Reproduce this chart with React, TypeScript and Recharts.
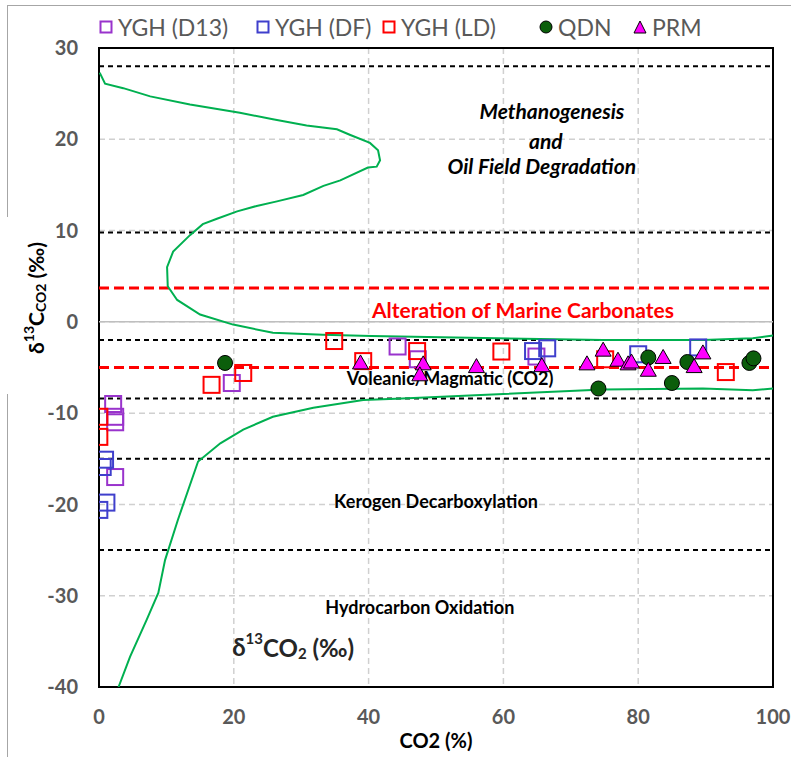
import React from 'react';
import {
  ComposedChart, Scatter, XAxis, YAxis, CartesianGrid,
  ReferenceLine, ReferenceArea, ReferenceDot,
} from 'recharts';

const FONT = 'Lato, "Open Sans", sans-serif';
const GREY = '#595959';
const PURPLE = '#9933cc';
const BLUE = '#3f3fcc';
const RED = '#ff0000';
const DARKGREEN = '#0b5e0b';
const MAGENTA = '#ff00ff';
const ENVELOPE = '#00b050';

const X_TICKS = [0, 20, 40, 60, 80, 100];
const Y_TICKS = [-40, -30, -20, -10, 0, 10, 20, 30];

// field boundaries, δ13C (‰)
const BLACK_BOUNDS = [28, 9.8, -2, -8.4, -15, -25];
const RED_BOUNDS = [3.7, -5];

// samples: x = CO2 (%), y = δ13C CO2 (‰)
const yghD13 = [
  { x: 2.1, y: -9.0 }, { x: 2.4, y: -10.4 }, { x: 2.4, y: -11.0 }, { x: 2.4, y: -17.0 },
  { x: 19.7, y: -6.7 }, { x: 44.3, y: -2.7 }, { x: 47.3, y: -4.1 }, { x: 64.9, y: -3.8 },
];
const yghDF = [
  { x: 0.9, y: -15.1 }, { x: 0.55, y: -15.9 }, { x: 1.1, y: -19.8 }, { x: 0.05, y: -20.6 },
  { x: 64.4, y: -3.2 }, { x: 66.5, y: -2.9 }, { x: 80.0, y: -3.55 }, { x: 88.9, y: -2.8 },
];
const yghLD = [
  { x: 0.05, y: -10.4 }, { x: 0.05, y: -12.6 }, { x: 16.7, y: -6.9 }, { x: 21.4, y: -5.6 },
  { x: 34.9, y: -2.1 }, { x: 39.2, y: -4.3 }, { x: 47.2, y: -3.2 }, { x: 59.7, y: -3.25 },
  { x: 75.1, y: -4.1 }, { x: 93.0, y: -5.5 },
];
const qdn = [
  { x: 18.7, y: -4.5 }, { x: 74.1, y: -7.3 }, { x: 81.5, y: -3.9 }, { x: 85.0, y: -6.7 },
  { x: 87.3, y: -4.4 }, { x: 96.5, y: -4.5 }, { x: 97.1, y: -4.0 },
];
const prm = [
  { x: 38.8, y: -4.5 }, { x: 48.1, y: -4.6 }, { x: 47.6, y: -5.8 }, { x: 56.0, y: -4.9 },
  { x: 65.7, y: -4.8 }, { x: 72.4, y: -4.6 }, { x: 74.8, y: -3.1 }, { x: 77.0, y: -4.2 },
  { x: 78.5, y: -4.6 }, { x: 79.0, y: -4.4 }, { x: 81.5, y: -5.3 }, { x: 83.7, y: -3.9 },
  { x: 88.3, y: -4.9 }, { x: 89.6, y: -3.4 },
];

// hand-drawn δ13CO2 envelope
const envelopeUpper = [
  { x: 0.1, y: 27.3 }, { x: 0.9, y: 26.1 }, { x: 3.6, y: 25.6 }, { x: 7.6, y: 24.7 },
  { x: 13.5, y: 23.8 }, { x: 20.9, y: 22.9 }, { x: 25.8, y: 22.2 }, { x: 30.8, y: 21.5 },
  { x: 35.3, y: 21.1 }, { x: 37.2, y: 20.5 }, { x: 40.2, y: 19.6 }, { x: 41.4, y: 18.8 },
  { x: 41.7, y: 17.7 }, { x: 41.2, y: 17.0 }, { x: 39.9, y: 16.9 }, { x: 35.8, y: 15.5 },
  { x: 33.3, y: 14.9 }, { x: 30.3, y: 13.9 }, { x: 26.4, y: 13.2 }, { x: 23.4, y: 12.7 },
  { x: 20.5, y: 12.1 }, { x: 17.5, y: 11.3 }, { x: 15.4, y: 10.7 }, { x: 13.5, y: 9.5 },
  { x: 11.0, y: 7.7 }, { x: 10.1, y: 6.0 }, { x: 10.2, y: 3.9 }, { x: 11.6, y: 2.4 },
  { x: 15.0, y: 0.8 }, { x: 19.9, y: -0.3 }, { x: 25.8, y: -1.2 }, { x: 33.2, y: -1.4 },
  { x: 40.4, y: -1.55 }, { x: 55.0, y: -1.75 }, { x: 74.8, y: -2.0 }, { x: 89.6, y: -2.0 },
  { x: 97.0, y: -1.8 }, { x: 100, y: -1.5 },
];
const envelopeLower = [
  { x: 2.9, y: -40 }, { x: 4.6, y: -36.7 }, { x: 7.1, y: -32.6 }, { x: 8.8, y: -29.7 },
  { x: 9.8, y: -26.1 }, { x: 11.7, y: -21.7 }, { x: 14.7, y: -15.3 }, { x: 18.0, y: -13.3 },
  { x: 21.4, y: -11.8 }, { x: 25.8, y: -10.4 }, { x: 31.8, y: -9.4 }, { x: 39.2, y: -8.55 },
  { x: 45.0, y: -8.4 }, { x: 60.0, y: -7.9 }, { x: 74.8, y: -7.4 }, { x: 89.6, y: -7.3 },
  { x: 97.0, y: -7.5 }, { x: 100, y: -7.3 },
];

const ANNOTATIONS = [
  { text: 'Methanogenesis', x: 67.2, y: 23.1, kind: 'italic' },
  { text: 'and', x: 66.3, y: 19.9, kind: 'italic' },
  { text: 'Oil Field Degradation', x: 65.7, y: 17.1, kind: 'italic' },
  { text: 'Alteration of Marine Carbonates', x: 62.9, y: 1.3, kind: 'red' },
  { text: 'Voleanic/Magmatic (CO2)', x: 52.1, y: -6.1, kind: 'plain' },
  { text: 'Kerogen Decarboxylation', x: 50.0, y: -19.6, kind: 'plain' },
  { text: 'Hydrocarbon Oxidation', x: 47.6, y: -31.2, kind: 'plain' },
];
const ANNOT_SIZE: Record<string, number> = { italic: 21, red: 21, plain: 18 };

const square = (color: string) => (p: any) => (
  <rect x={p.cx - 8} y={p.cy - 8} width={16} height={16} fill="none" stroke={color} strokeWidth={2} />
);
const dot = (p: any) => <circle cx={p.cx} cy={p.cy} r={7.5} fill={DARKGREEN} stroke="#000" strokeWidth={1} />;
const tri = (p: any) => (
  <polygon points={`${p.cx},${p.cy - 8} ${p.cx - 8},${p.cy + 6} ${p.cx + 8},${p.cy + 6}`}
    fill={MAGENTA} stroke="#000" strokeWidth={1} />
);
const nothing = () => <g />;

const annotationLabel = (a: (typeof ANNOTATIONS)[number]) => (lp: any) => {
  const vb = lp.viewBox;
  const cx = vb.x + vb.width / 2;
  const cy = vb.y + vb.height / 2;
  return (
    <text x={cx} y={cy} textAnchor="middle" dominantBaseline="central" fontFamily={FONT}
      fontWeight={700} fontSize={ANNOT_SIZE[a.kind]} fontStyle={a.kind === 'italic' ? 'italic' : 'normal'}
      fill={a.kind === 'red' ? RED : '#000'}>
      {a.text}
    </text>
  );
};

const deltaLabel = (lp: any) => {
  const vb = lp.viewBox;
  const cx = vb.x + vb.width / 2;
  const cy = vb.y + vb.height / 2;
  return (
    <text x={cx} y={cy} textAnchor="middle" dominantBaseline="central" fontFamily={FONT}
      fontWeight={700} fontSize={24} fill="#262626">
      δ<tspan fontSize={15} dy={-9}>13</tspan><tspan dy={9}>CO</tspan>
      <tspan fontSize={15} dy={6}>2</tspan><tspan dy={-6}> (‰)</tspan>
    </text>
  );
};

const yLabel = (lp: any) => {
  const vb = lp.viewBox;
  const cx = vb.x - 4;
  const cy = vb.y + 250;
  return (
    <g>
      <rect x={0} y={vb.y + 169} width={56} height={177} fill="#fff" />
      <text x={cx} y={cy} transform={`rotate(-90, ${cx}, ${cy})`} textAnchor="middle"
        dominantBaseline="central" fontFamily={FONT} fontWeight={700} fontSize={21} fill="#000">
        δ<tspan fontSize={14} dy={-7}>13</tspan><tspan dy={7}>C</tspan>
        <tspan fontSize={14} dy={5}>CO2</tspan><tspan dy={-5}> (‰)</tspan>
      </text>
    </g>
  );
};

const xLabel = (lp: any) => {
  const vb = lp.viewBox;
  return (
    <text x={vb.x + vb.width / 2} y={vb.y + 53} textAnchor="middle" dominantBaseline="central"
      fontFamily={FONT} fontWeight={700} fontSize={20} fill="#000">
      CO2 (%)
    </text>
  );
};

const LEGEND = [
  { name: 'YGH (D13)', icon: 'square', color: PURPLE, left: 99 },
  { name: 'YGH (DF)', icon: 'square', color: BLUE, left: 256 },
  { name: 'YGH (LD)', icon: 'square', color: RED, left: 382 },
  { name: 'QDN', icon: 'circle', color: DARKGREEN, left: 539 },
  { name: 'PRM', icon: 'triangle', color: MAGENTA, left: 633 },
];

function LegendIcon({ icon, color }: { icon: string; color: string }) {
  return (
    <svg width={14} height={14} style={{ marginRight: 5 }}>
      {icon === 'square' && <rect x={1.5} y={1.5} width={11} height={11} fill="none" stroke={color} strokeWidth={2} />}
      {icon === 'circle' && <circle cx={7} cy={7} r={6} fill={color} stroke="#000" strokeWidth={1} />}
      {icon === 'triangle' && <polygon points="7,1 1,13 13,13" fill={color} stroke="#000" strokeWidth={1} />}
    </svg>
  );
}

export default function App() {
  const tickStyle = { fill: GREY, fontSize: 20, fontWeight: 700, fontFamily: FONT };
  return (
    <div style={{ position: 'absolute', left: 0, top: 0, width: 791, height: 757, background: '#fff', overflow: 'hidden' }}>
      <div style={{ position: 'absolute', left: 7, top: 5, width: 800, height: 800, borderLeft: '1px solid #a6a6a6', borderTop: '1px solid #a6a6a6' }} />
      {LEGEND.map((l) => (
        <span key={l.name} style={{ position: 'absolute', left: l.left, top: 12, display: 'flex', alignItems: 'center', fontFamily: FONT, fontSize: 23, color: GREY, lineHeight: '30px' }}>
          <LegendIcon icon={l.icon} color={l.color} />
          {l.name}
        </span>
      ))}
      <div style={{ position: 'absolute', left: 0, top: 0 }}>
        <ComposedChart width={791} height={757} margin={{ top: 48, right: 18, left: 39, bottom: 30 }}>
          <CartesianGrid stroke="#d0d0d0" strokeDasharray="6 4" strokeWidth={1.5} />
          <XAxis type="number" dataKey="x" domain={[0, 100]} ticks={X_TICKS} allowDataOverflow
            tick={tickStyle} tickLine={false} axisLine={false} tickSize={0} tickMargin={23} height={40}
            label={{ content: xLabel }} />
          <YAxis type="number" dataKey="y" domain={[-40, 30]} ticks={Y_TICKS} allowDataOverflow
            tick={tickStyle} tickLine={false} axisLine={false} tickSize={0} tickMargin={21} width={60}
            label={{ content: yLabel }} />
          <ReferenceLine y={0} stroke="#bfbfbf" strokeWidth={1.5} />
          <Scatter data={envelopeUpper} fill={ENVELOPE} line={{ stroke: ENVELOPE, strokeWidth: 2 }}
            lineJointType="linear" shape={nothing} isAnimationActive={false} legendType="none" />
          <Scatter data={envelopeLower} fill={ENVELOPE} line={{ stroke: ENVELOPE, strokeWidth: 2 }}
            lineJointType="linear" shape={nothing} isAnimationActive={false} legendType="none" />
          {BLACK_BOUNDS.map((v) => (
            <ReferenceLine key={`b${v}`} y={v} stroke="#000" strokeWidth={2} strokeDasharray="5 4" />
          ))}
          {RED_BOUNDS.map((v) => (
            <ReferenceLine key={`r${v}`} y={v} stroke={RED} strokeWidth={3} strokeDasharray="10 5" />
          ))}
          <ReferenceArea x1={0} x2={100} y1={-40} y2={30} fill="none" fillOpacity={0} stroke="#000" strokeWidth={2} />
          {ANNOTATIONS.map((a) => (
            <ReferenceDot key={a.text} x={a.x} y={a.y} r={1} fill="none" stroke="none"
              label={{ content: annotationLabel(a) }} />
          ))}
          <ReferenceDot x={28.8} y={-35.6} r={1} fill="none" stroke="none" label={{ content: deltaLabel }} />
          <Scatter data={yghD13} shape={square(PURPLE)} isAnimationActive={false} />
          <Scatter data={yghDF} shape={square(BLUE)} isAnimationActive={false} />
          <Scatter data={yghLD} shape={square(RED)} isAnimationActive={false} />
          <Scatter data={qdn} shape={dot} isAnimationActive={false} />
          <Scatter data={prm} shape={tri} isAnimationActive={false} />
        </ComposedChart>
      </div>
    </div>
  );
}
